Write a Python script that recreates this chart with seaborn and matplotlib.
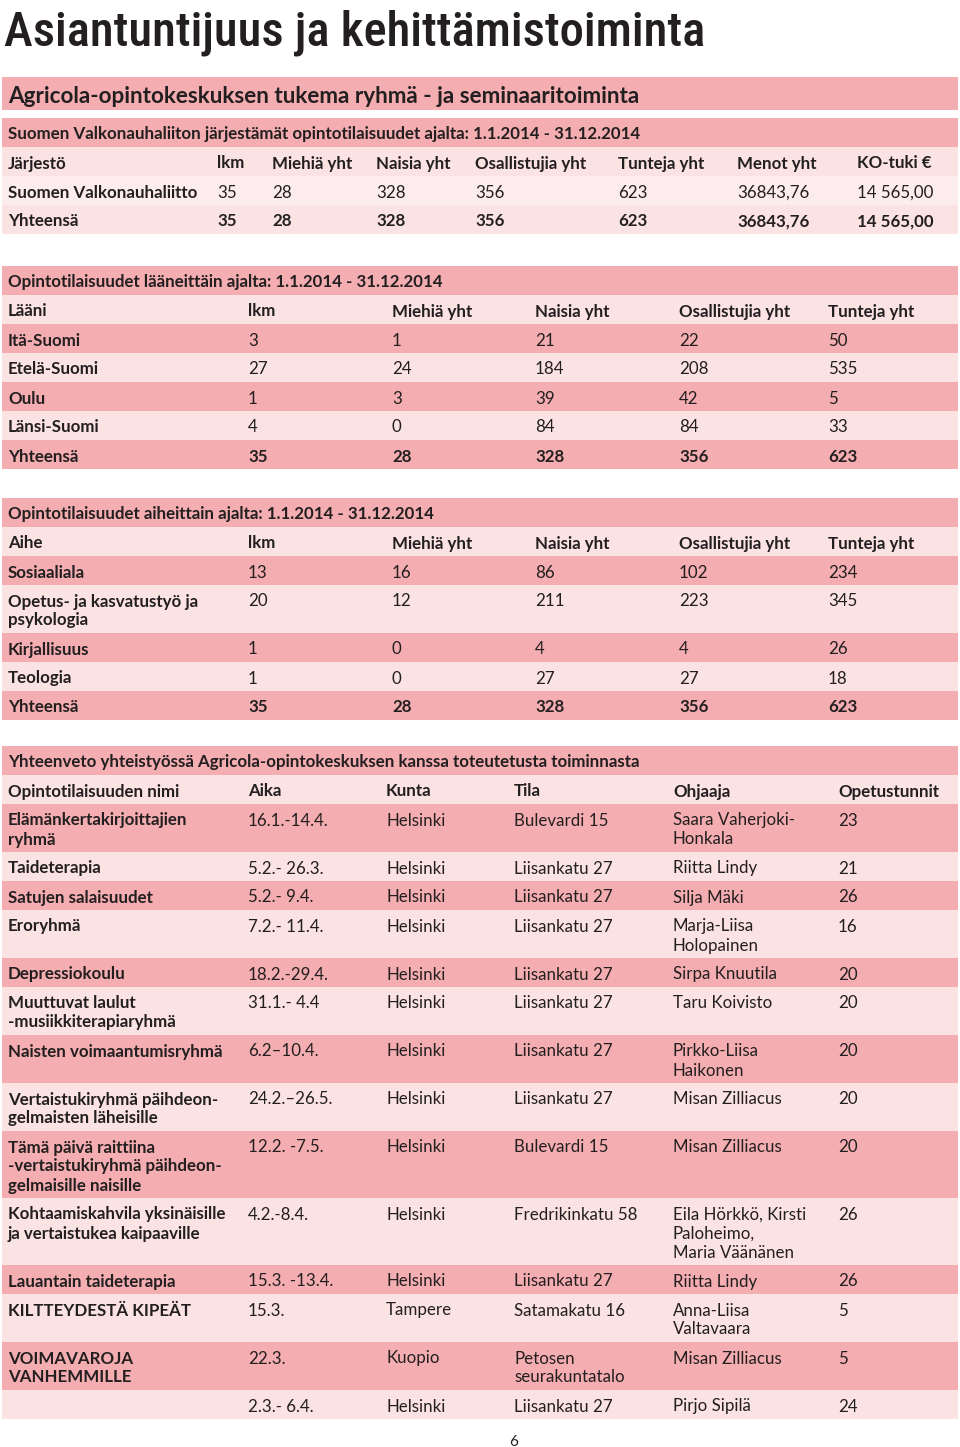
import matplotlib
matplotlib.use("Agg")
import matplotlib.pyplot as plt
import seaborn as sns
from matplotlib.patches import Rectangle

# ---------------- data ----------------
page_title = "Asiantuntijuus ja kehittämistoiminta"
main_heading = "Agricola-opintokeskuksen tukema ryhmä - ja seminaaritoiminta"
page_number = "6"

s1_title = "Suomen Valkonauhaliiton järjestämät opintotilaisuudet ajalta: 1.1.2014 - 31.12.2014"
s1_columns = ["Järjestö", "lkm", "Miehiä yht", "Naisia yht", "Osallistujia yht",
              "Tunteja yht", "Menot yht", "KO-tuki €"]
s1_org = ["Suomen Valkonauhaliitto", "Yhteensä"]
s1_lkm = [35, 35]
s1_men = [28, 28]
s1_women = [328, 328]
s1_participants = [356, 356]
s1_hours = [623, 623]
s1_costs = ["36843,76", "36843,76"]
s1_support = ["14 565,00", "14 565,00"]

s2_title = "Opintotilaisuudet lääneittäin ajalta: 1.1.2014 - 31.12.2014"
s2_columns = ["Lääni", "lkm", "Miehiä yht", "Naisia yht", "Osallistujia yht", "Tunteja yht"]
s2_regions = ["Itä-Suomi", "Etelä-Suomi", "Oulu", "Länsi-Suomi", "Yhteensä"]
s2_lkm = [3, 27, 1, 4, 35]
s2_men = [1, 24, 3, 0, 28]
s2_women = [21, 184, 39, 84, 328]
s2_participants = [22, 208, 42, 84, 356]
s2_hours = [50, 535, 5, 33, 623]

s3_title = "Opintotilaisuudet aiheittain ajalta: 1.1.2014 - 31.12.2014"
s3_columns = ["Aihe", "lkm", "Miehiä yht", "Naisia yht", "Osallistujia yht", "Tunteja yht"]
s3_topics = ["Sosiaaliala", "Opetus- ja kasvatustyö ja\npsykologia", "Kirjallisuus", "Teologia", "Yhteensä"]
s3_lkm = [13, 20, 1, 1, 35]
s3_men = [16, 12, 0, 0, 28]
s3_women = [86, 211, 4, 27, 328]
s3_participants = [102, 223, 4, 27, 356]
s3_hours = [234, 345, 26, 18, 623]

s4_title = "Yhteenveto yhteistyössä Agricola-opintokeskuksen kanssa toteutetusta toiminnasta"
s4_columns = ["Opintotilaisuuden nimi", "Aika", "Kunta", "Tila", "Ohjaaja", "Opetustunnit"]
s4_names = ["Elämänkertakirjoittajien\nryhmä", "Taideterapia", "Satujen salaisuudet", "Eroryhmä",
            "Depressiokoulu", "Muuttuvat laulut\n-musiikkiterapiaryhmä", "Naisten voimaantumisryhmä",
            "Vertaistukiryhmä päihdeon-\ngelmaisten läheisille",
            "Tämä päivä raittiina\n-vertaistukiryhmä päihdeon-\ngelmaisille naisille",
            "Kohtaamiskahvila yksinäisille\nja vertaistukea kaipaaville", "Lauantain taideterapia",
            "KILTTEYDESTÄ KIPEÄT", "VOIMAVAROJA\nVANHEMMILLE", ""]
s4_dates = ["16.1.-14.4.", "5.2.- 26.3.", "5.2.- 9.4.", "7.2.- 11.4.", "18.2.-29.4.", "31.1.- 4.4",
            "6.2–10.4.", "24.2.–26.5.", "12.2. -7.5.", "4.2.-8.4.", "15.3. -13.4.", "15.3.",
            "22.3.", "2.3.- 6.4."]
s4_towns = ["Helsinki", "Helsinki", "Helsinki", "Helsinki", "Helsinki", "Helsinki", "Helsinki",
            "Helsinki", "Helsinki", "Helsinki", "Helsinki", "Tampere", "Kuopio", "Helsinki"]
s4_venues = ["Bulevardi 15", "Liisankatu 27", "Liisankatu 27", "Liisankatu 27", "Liisankatu 27",
             "Liisankatu 27", "Liisankatu 27", "Liisankatu 27", "Bulevardi 15", "Fredrikinkatu 58",
             "Liisankatu 27", "Satamakatu 16", "Petosen\nseurakuntatalo", "Liisankatu 27"]
s4_leaders = ["Saara Vaherjoki-\nHonkala", "Riitta Lindy", "Silja Mäki", "Marja-Liisa\nHolopainen",
              "Sirpa Knuutila", "Taru Koivisto", "Pirkko-Liisa\nHaikonen", "Misan Zilliacus",
              "Misan Zilliacus", "Eila Hörkkö, Kirsti\nPaloheimo,\nMaria Väänänen", "Riitta Lindy",
              "Anna-Liisa\nValtavaara", "Misan Zilliacus", "Pirjo Sipilä"]
s4_hours = [23, 21, 26, 16, 20, 20, 20, 20, 20, 26, 26, 5, 5, 24]

# ---------------- style ----------------
sns.set_theme(style="white")
plt.rcParams['font.family'] = ['Lato', 'DejaVu Sans']

DARK = "#f4adb0"
LIGHT = "#fbe2e3"
LIGHTER = "#fdeced"
INK = "#231f20"
FS = 12.2
LINE = 19.0
X0, X1 = 2, 958

fig = plt.figure(figsize=(9.6, 14.47), dpi=100)
ax = fig.add_axes([0, 0, 1, 1])
ax.set_xlim(0, 960)
ax.set_ylim(1447, 0)
ax.axis("off")


def band(top, height, color):
    ax.add_patch(Rectangle((X0, top), X1 - X0, height, facecolor=color, edgecolor="none", zorder=0))


def cell(x, top, text, bold=False, fs=FS):
    for i, line in enumerate(str(text).split("\n")):
        ax.text(x, top + 21.5 + i * LINE, line, fontsize=fs, color=INK,
                fontweight="bold" if bold else "normal", va="baseline", ha="left")


def row_height(cells):
    n = max(len(str(c).split("\n")) for c in cells)
    return 10 + LINE * n


def table(top, title, columns, rows, xs, colors, bold_all=(), bold_first=True):
    band(top, 29, DARK)
    cell(8, top, title, bold=True)
    y = top + 29
    band(y, 29, colors[0])
    for x, c in zip(xs, columns):
        cell(x, y, c, bold=True)
    y += 29
    for r, cells in enumerate(rows):
        h = row_height(cells)
        band(y, h, colors[r + 1])
        for j, (x, c) in enumerate(zip(xs, cells)):
            cell(x, y, c, bold=(r in bold_all) or (j == 0 and bold_first))
        y += h
    return y


# page title (condensed, fitted to width)
t = ax.text(4, 46, page_title, fontsize=44, color=INK, va="baseline", ha="left",
            family=["Roboto Condensed", "Liberation Sans Narrow", "Open Sans Condensed",
                    "DejaVu Sans Condensed", "Roboto"],
            fontweight="medium")
fig.canvas.draw()
bb = t.get_window_extent(fig.canvas.get_renderer())
t.set_fontsize(44 * 701 / bb.width)

# main heading band
band(77, 33, DARK)
ax.text(8, 103, main_heading, fontsize=16.2, color=INK, fontweight="bold", va="baseline")

# section 1
rows1 = list(zip(s1_org, s1_lkm, s1_men, s1_women, s1_participants, s1_hours, s1_costs, s1_support))
xs1 = [8, 217, 272, 376, 475, 618, 737, 857]
table(118, s1_title, s1_columns, rows1, xs1, [LIGHT, LIGHTER, LIGHT], bold_all=(1,))

# section 2
rows2 = list(zip(s2_regions, s2_lkm, s2_men, s2_women, s2_participants, s2_hours))
xs2 = [8, 248, 392, 535, 679, 828]
alt2 = [LIGHT if i % 2 == 0 else DARK for i in range(len(rows2) + 1)]
table(266, s2_title, s2_columns, rows2, xs2, alt2, bold_all=(4,))

# section 3
rows3 = list(zip(s3_topics, s3_lkm, s3_men, s3_women, s3_participants, s3_hours))
alt3 = [LIGHT if i % 2 == 0 else DARK for i in range(len(rows3) + 1)]
table(498, s3_title, s3_columns, rows3, xs2, alt3, bold_all=(4,))

# section 4
rows4 = list(zip(s4_names, s4_dates, s4_towns, s4_venues, s4_leaders, s4_hours))
xs4 = [8, 248, 386, 514, 673, 838]
alt4 = [LIGHT if i % 2 == 0 else DARK for i in range(len(rows4) + 1)]
table(746, s4_title, s4_columns, rows4, xs4, alt4)

ax.text(514, 1446, page_number, fontsize=11, color=INK, ha="center", va="baseline")

fig.savefig("out.png", dpi=100)
